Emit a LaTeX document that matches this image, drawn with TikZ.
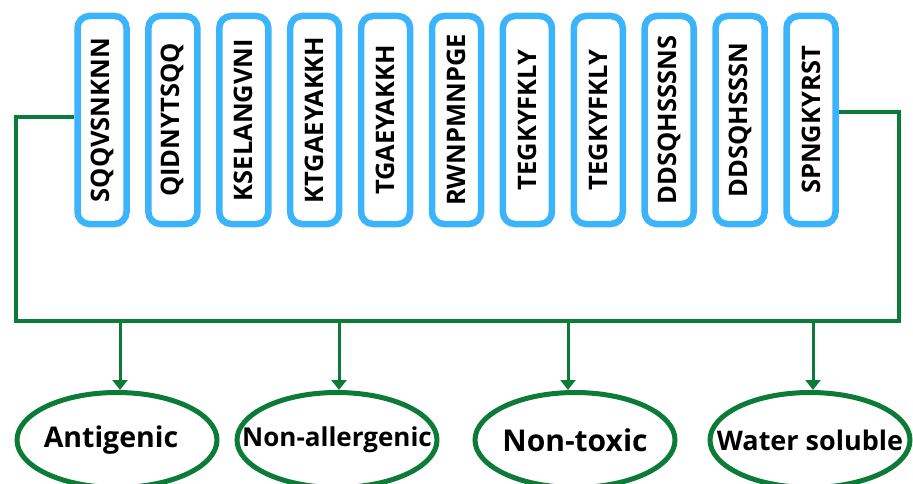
\documentclass[tikz,border=0pt]{standalone}
\usepackage{fontspec}
\setmainfont{Open Sans}
\usetikzlibrary{arrows.meta,positioning,shapes.geometric}
\definecolor{seqBlue}{HTML}{3BB4FC}
\definecolor{propGreen}{HTML}{0B7B37}

\begin{document}
\begin{tikzpicture}[x=1pt, y=1pt,
  seq/.style={draw=seqBlue, line width=6.5pt, rounded corners=12pt, rotate=90, minimum width=208pt, minimum height=49pt, inner sep=0pt, font=\bfseries\fontsize{25.5}{25.5}\selectfont},
  prop/.style={ellipse, draw=propGreen, line width=5pt, minimum width=200pt, minimum height=95pt, inner sep=0pt},
  link/.style={propGreen, line width=4pt},
  arr/.style={propGreen, line width=3pt, -{Triangle[width=15pt,length=10pt]}}]
  \useasboundingbox (0,0) rectangle (913,483);
  % peptide boxes
  \foreach \i/\s in {1/SQQVSNKNN, 2/QIDNYTSQQ, 3/KSELANGVNI, 4/KTGAEYAKKH, 5/TGAEYAKKH, 6/RWNPMNPGE,
                     7/TEGKYFKLY, 8/TEGKYFKLY, 9/DDSQHSSSNS, 10/DDSQHSSSN, 11/SPNGKYRST}
    {\node[seq] (s\i) at ({102+70.9*(\i-1)},363) {\s};}
  % properties
  \node[prop, font=\bfseries\fontsize{28.5}{28.5}\selectfont] (p1) at (117,43) {\makebox[0pt]{\hspace*{-12pt}Antigenic}};
  \node[prop, font=\bfseries\fontsize{26}{26}\selectfont] (p2) at (337,43) {\makebox[0pt]{Non-allergenic}};
  \node[prop, font=\bfseries\fontsize{30}{30}\selectfont] (p3) at (575,43) {\makebox[0pt]{Non-toxic}};
  \node[prop, font=\bfseries\fontsize{27}{27}\selectfont] (p4) at (810,43) {\makebox[0pt]{Water soluble}};
  % bus line
  \coordinate (busL) at (16,162);
  \coordinate (busR) at (899,162);
  \draw[link] ([yshift=3pt]s1.north) -| (busL) -- (busR) |- ([yshift=8pt]s11.south);
  \draw[arr] ([xshift=3pt]p1.north |- busL) -- ([xshift=3pt]p1.north);
  \draw[arr] ([xshift=2pt]p2.north |- busL) -- ([xshift=2pt]p2.north);
  \draw[arr] ([xshift=-7pt]p3.north |- busL) -- ([xshift=-7pt]p3.north);
  \draw[arr] ([xshift=3pt]p4.north |- busL) -- ([xshift=3pt]p4.north);
\end{tikzpicture}
\end{document}
